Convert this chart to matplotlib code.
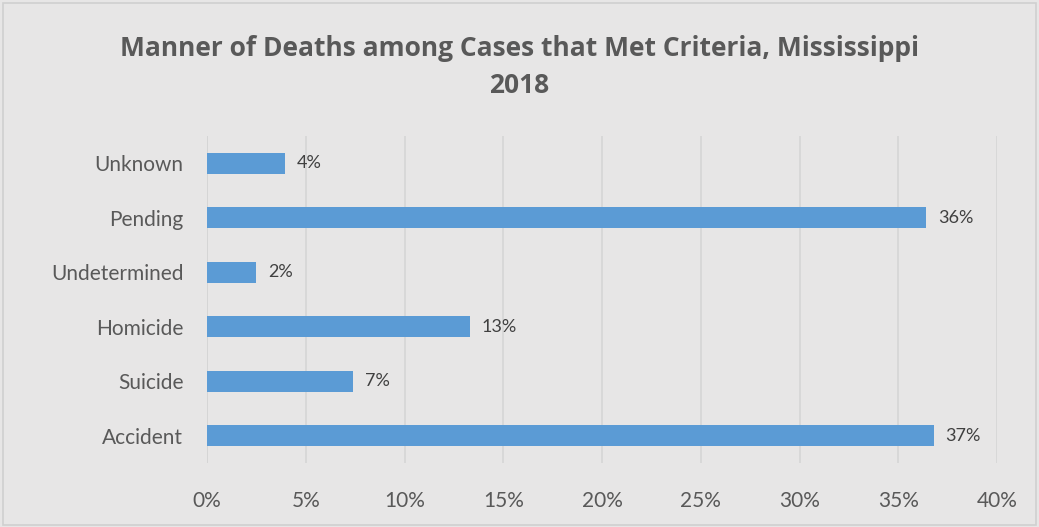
import matplotlib.pyplot as plt
from matplotlib.patches import Rectangle

categories = ["Accident", "Suicide", "Homicide", "Undetermined", "Pending", "Unknown"]
values = [36.8, 7.4, 13.3, 2.5, 36.4, 3.95]
labels = ["37%", "7%", "13%", "2%", "36%", "4%"]
ticks = [0, 5, 10, 15, 20, 25, 30, 35, 40]

plt.rcParams['font.family'] = ['Lato', 'DejaVu Sans']

bg = "#e7e6e6"
fig = plt.figure(figsize=(10.39, 5.27), dpi=100)
fig.patch.set_facecolor(bg)
fig.patches.append(Rectangle((0.003, 0.003), 0.994, 0.992, transform=fig.transFigure,
                             fill=False, edgecolor="#d0d0d0", linewidth=1.2))

ax = fig.add_axes([207 / 1039, 1 - 463 / 527, 790 / 1039, 327 / 527])
ax.set_facecolor(bg)

y = range(len(categories))
ax.barh(y, values, height=0.39, color="#5b9bd5", zorder=3)
for i, v in enumerate(values):
    ax.text(v + 0.6, i, labels[i], va="center", ha="left", fontsize=13, color="#404040")

ax.set_xlim(0, 40)
ax.set_ylim(-0.5, len(categories) - 0.5)
ax.set_xticks(ticks)
ax.set_xticklabels([f"{t}%" for t in ticks])
ax.set_yticks(list(y))
ax.set_yticklabels(categories)
ax.tick_params(length=0, labelsize=15, colors="#595959")
ax.tick_params(axis="x", pad=20)
ax.tick_params(axis="y", pad=17)
ax.grid(axis="x", color="#d6d6d6", linewidth=1.2, zorder=0)
ax.axvline(0, color="#d0d0d0", linewidth=1.2, zorder=1)
for s in ax.spines.values():
    s.set_visible(False)

fig.text(0.5, 1 - 67 / 527, "Manner of Deaths among Cases that Met Criteria, Mississippi\n2018",
         ha="center", va="center", fontsize=19, fontweight="bold", color="#595959",
         family=["Open Sans", "DejaVu Sans"], linespacing=1.45)

fig.savefig("out.png", dpi=100, facecolor=bg)
